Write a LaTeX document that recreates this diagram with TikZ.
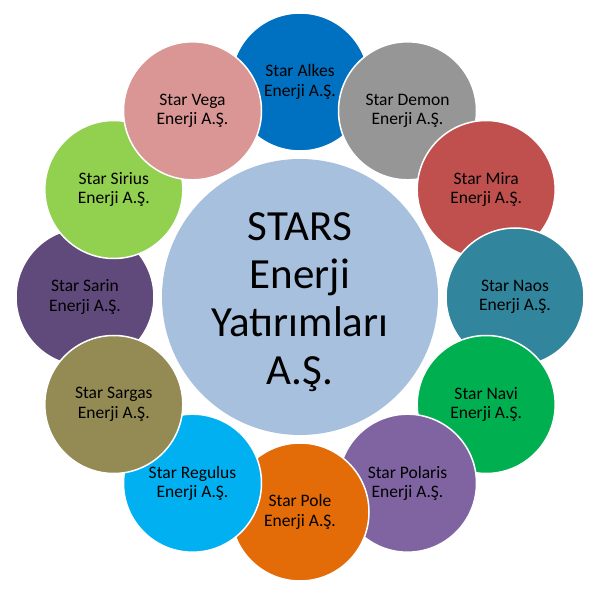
\documentclass[tikz,border=0pt]{standalone}
\usepackage{fontspec}
\setmainfont{Carlito}
\definecolor{stcenter}{RGB}{167,192,222}
\definecolor{stalkes}{RGB}{0,112,192}
\definecolor{stdemon}{RGB}{150,150,150}
\definecolor{stmira}{RGB}{192,80,77}
\definecolor{stnaos}{RGB}{49,133,156}
\definecolor{stnavi}{RGB}{0,176,80}
\definecolor{stpolaris}{RGB}{128,100,162}
\definecolor{stpole}{RGB}{227,108,9}
\definecolor{stregulus}{RGB}{0,176,240}
\definecolor{stsargas}{RGB}{148,138,84}
\definecolor{stsarin}{RGB}{96,74,123}
\definecolor{stsirius}{RGB}{146,208,80}
\definecolor{stvega}{RGB}{217,150,148}

\begin{document}
\begin{tikzpicture}[x=1pt,y=1pt,
  star/.style={circle,draw=white,line width=1.5pt,inner sep=0pt,
    minimum size=138pt,align=center,text=black,
    font=\fontsize{17.5}{19.5}\selectfont},
  hub/.style={circle,fill=stcenter,inner sep=0pt,minimum size=276pt},
  hubtext/.style={align=center,text=black,inner sep=0pt,
    font=\fontsize{43}{48}\selectfont}]
  \useasboundingbox (0,0) rectangle (606,595);
  \begin{scope}[shift={(300,298)}]
    \node[hub] (ctr) at (0,0) {};
    \node[hubtext] (ctrtext) at (0,-5) {STARS\\Enerji\\Yatırımları\\A.Ş.};
    \node[star,fill=stalkes] (alkes) at (90:215) {Star Alkes\\Enerji A.Ş.};
    \node[star,fill=stdemon] (demon) at (60:215) {Star Demon\\Enerji A.Ş.};
    \node[star,fill=stmira] (mira) at (30:215) {Star Mira\\Enerji A.Ş.};
    \node[star,fill=stnaos] (naos) at (0:215) {Star Naos\\Enerji A.Ş.};
    \node[star,fill=stnavi] (navi) at (-30:215) {Star Navi\\Enerji A.Ş.};
    \node[star,fill=stpolaris] (polaris) at (-60:215) {Star Polaris\\Enerji A.Ş.};
    \node[star,fill=stpole] (pole) at (-90:215) {Star Pole\\Enerji A.Ş.};
    \node[star,fill=stregulus] (regulus) at (-120:215) {Star Regulus\\Enerji A.Ş.};
    \node[star,fill=stsarin] (sarin) at (180:215) {Star Sarin\\Enerji A.Ş.};
    \node[star,fill=stsargas] (sargas) at (-150:215) {Star Sargas\\Enerji A.Ş.};
    \node[star,fill=stsirius] (sirius) at (150:215) {Star Sirius\\Enerji A.Ş.};
    \node[star,fill=stvega] (vega) at (120:215) {Star Vega\\Enerji A.Ş.};
  \end{scope}
\end{tikzpicture}
\end{document}
